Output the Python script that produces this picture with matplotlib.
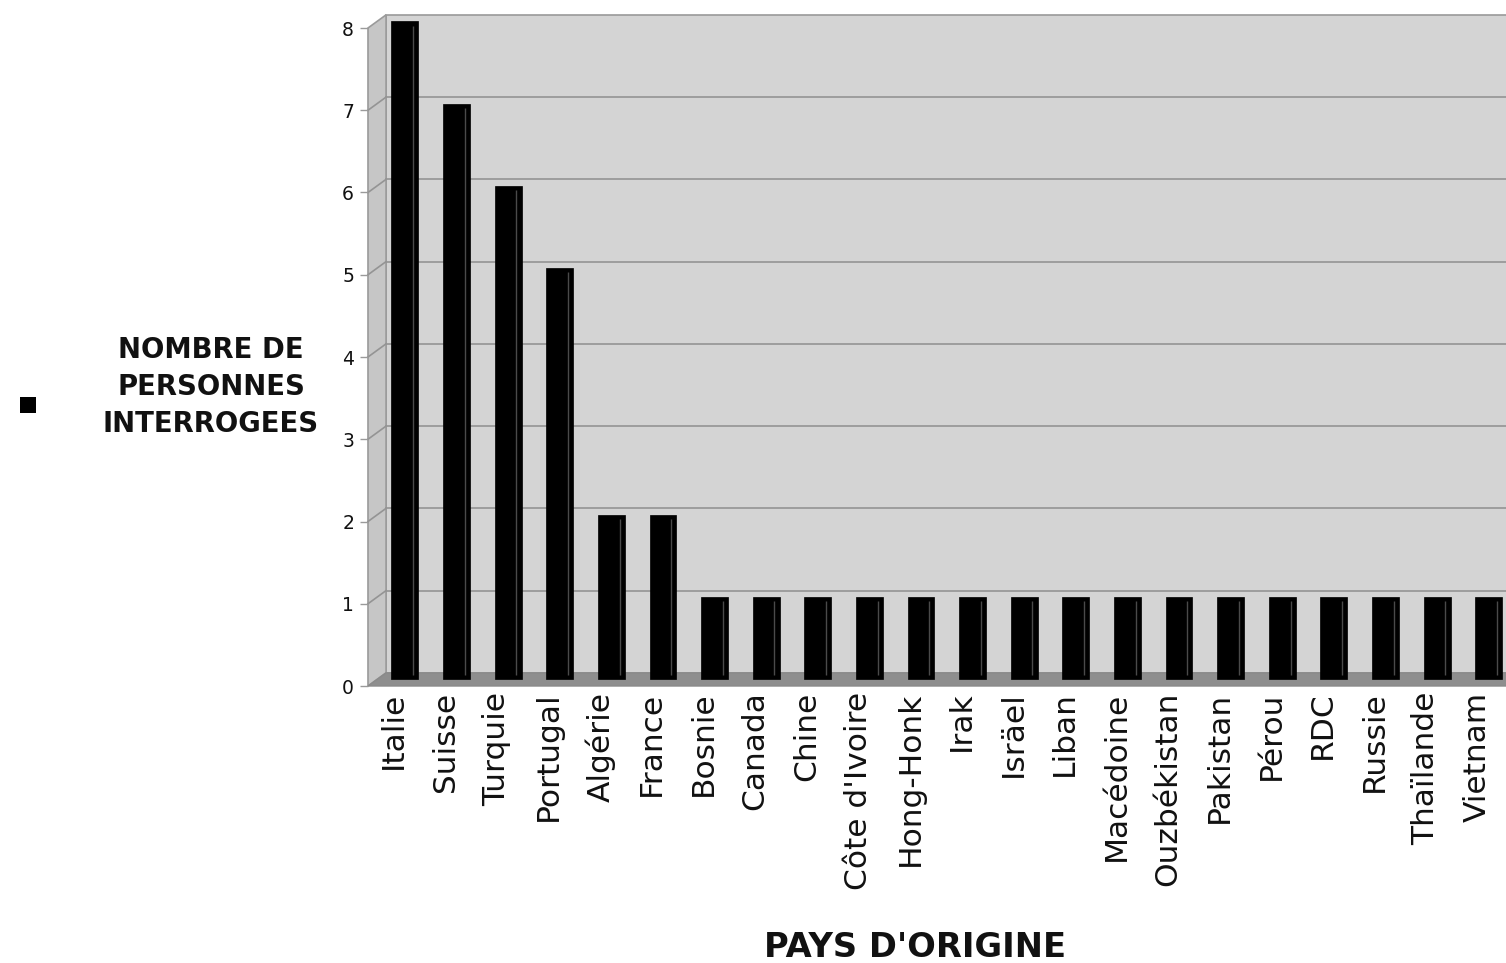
import matplotlib
matplotlib.use("Agg")
import matplotlib.pyplot as plt
from matplotlib.patches import Polygon, Rectangle
import numpy as np

categories = ["Italie", "Suisse", "Turquie", "Portugal", "Algérie", "France",
              "Bosnie", "Canada", "Chine", "Côte d'Ivoire", "Hong-Honk", "Irak",
              "Isräel", "Liban", "Macédoine", "Ouzbékistan", "Pakistan", "Pérou",
              "RDC", "Russie", "Thaïlande", "Vietnam"]
values = [8, 7, 6, 5, 2, 2, 1, 1, 1, 1, 1, 1, 1, 1, 1, 1, 1, 1, 1, 1, 1, 1]
y_ticks = [0, 1, 2, 3, 4, 5, 6, 7, 8]
series_name = "NOMBRE DE\nPERSONNES\nINTERROGEES"
x_title = "PAYS D'ORIGINE"

plt.rcParams['font.family'] = ['DejaVu Sans']

W, H = 1506, 963
fig = plt.figure(figsize=(W / 100, H / 100), dpi=100)
ax = fig.add_axes([368 / W, (H - 686) / H, (W - 368) / W, (686 - 28) / H])

x = np.arange(len(categories))
xl, xr = -0.5, 21.55
ymax = 8
dx, dy = 0.35, 0.16  # depth offset in data units

ax.set_xlim(xl, xr)
ax.set_ylim(0, ymax)
ax.set_facecolor('none')
for s in ax.spines.values():
    s.set_visible(False)

# back wall
ax.add_patch(Rectangle((xl + dx, dy), (xr - xl) + 1, ymax, facecolor='#d4d4d4',
                       edgecolor='#9a9a9a', lw=1.2, clip_on=False, zorder=0))
# side wall
ax.add_patch(Polygon([(xl, 0), (xl + dx, dy), (xl + dx, ymax + dy), (xl, ymax)],
                     closed=True, facecolor='#c6c6c6', edgecolor='#9a9a9a', lw=1.2,
                     clip_on=False, zorder=0.5))
# floor
ax.add_patch(Polygon([(xl, 0), (xr + 1, 0), (xr + 1 + dx, dy), (xl + dx, dy)],
                     closed=True, facecolor='#8e8e8e', edgecolor='#8a8a8a', lw=1.0,
                     clip_on=False, zorder=0.6))
# gridlines
for k in y_ticks[1:-1]:
    ax.plot([xl + dx, xr + 1 + dx], [k + dy, k + dy], color='#949494', lw=1.2,
            clip_on=False, zorder=0.7)
    ax.plot([xl, xl + dx], [k, k + dy], color='#949494', lw=1.2,
            clip_on=False, zorder=0.7)

# bars
bx = x + dx / 2 + 0.04
ax.bar(bx, values, bottom=dy / 2, width=0.52, color='black', edgecolor='black',
       lw=0.5, clip_on=False, zorder=3)
ax.vlines(bx + 0.16, dy / 2 + 0.05, np.array(values) + dy / 2 - 0.05,
          color='#4a4a4a', lw=1.0, zorder=4, clip_on=False)

ax.set_yticks(y_ticks)
ax.set_yticklabels([str(v) for v in y_ticks], fontsize=13.5, color='#111111')
ax.tick_params(axis='y', length=6, width=1, color='#9a9a9a', pad=4)
ax.set_xticks(x)
ax.set_xticklabels(categories, rotation=90, fontsize=22.5, color='#111111')
ax.tick_params(axis='x', length=0, pad=4)

# legend
fig.patches.append(Rectangle((20 / W, (H - 413) / H), 16 / W, 16 / H,
                             transform=fig.transFigure, facecolor='black',
                             edgecolor='none'))
fig.text(211 / W, (H - 387) / H, series_name, ha='center', va='center',
         multialignment='center', fontsize=19.8, fontweight='bold', linespacing=1.43,
         color='#111111')

fig.text(915 / W, (H - 947) / H, x_title, ha='center', va='center',
         fontsize=24.3, fontweight='bold', color='#111111')

fig.savefig('out.png', dpi=100)
